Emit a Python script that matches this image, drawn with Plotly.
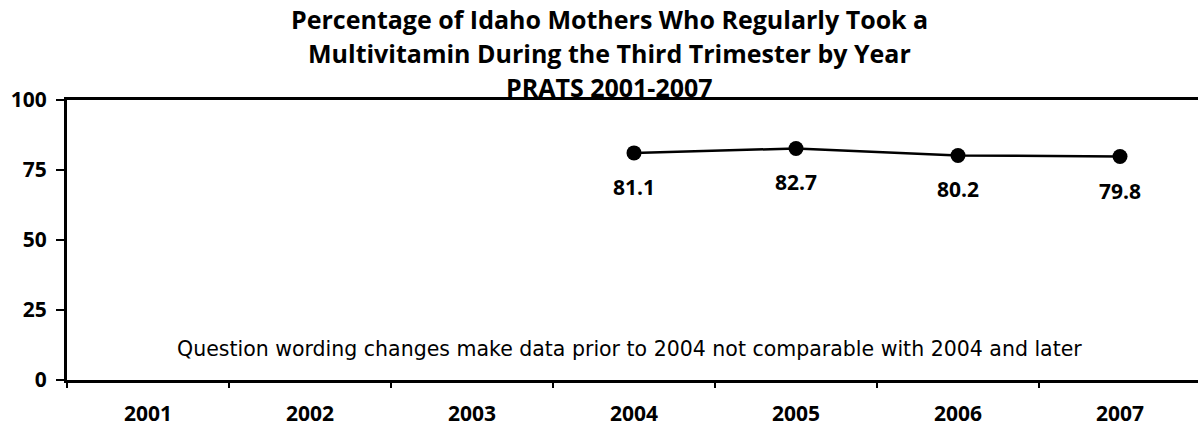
import plotly.graph_objects as go

categories = ["2001", "2002", "2003", "2004", "2005", "2006", "2007"]
years = ["2004", "2005", "2006", "2007"]
values = [81.1, 82.7, 80.2, 79.8]
y_ticks = [0, 25, 50, 75, 100]
title_lines = [
    "Percentage of Idaho Mothers Who Regularly Took a",
    "Multivitamin During the Third Trimester by Year",
    "PRATS 2001-2007",
]
note = "Question wording changes make data prior to 2004 not comparable with 2004 and later"

# body margin is removed in the page, so figure pixels == page pixels
OFF = 0
W, H = 1198, 429
ml, mr, mt, mb = 67, 0, 100, 49
pw, ph = W - ml - mr, H - mt - mb
XMAX = -0.5 + pw / 162.0


def px_to_paper(px, py):
    fx, fy = px - OFF, py - OFF
    return (fx - ml) / pw, (H - fy - mb) / ph


fig = go.Figure()
fig.add_trace(go.Scatter(
    x=[categories.index(y) for y in years], y=values, mode="lines+markers",
    line=dict(color="black", width=2.5),
    marker=dict(color="black", size=15),
    hoverinfo="y",
))

annotations = []
for yr, v in zip(years, values):
    annotations.append(dict(
        x=categories.index(yr), y=v, xref="x", yref="y", text=f"{v:.1f}", showarrow=False,
        yshift=-34, font=dict(family="Open Sans", size=21, color="black", weight="bold"),
    ))

title_y = [19.5, 53, 87]
for t, py in zip(title_lines, title_y):
    x, y = px_to_paper(609, py)
    annotations.append(dict(
        x=x, y=y, xref="paper", yref="paper", text=t, showarrow=False,
        font=dict(family="Open Sans", size=25, color="black", weight="bold"),
        xanchor="center", yanchor="middle",
    ))

nx, ny = px_to_paper(629, 349)
annotations.append(dict(
    x=nx, y=ny, xref="paper", yref="paper", text=note, showarrow=False,
    font=dict(family="DejaVu Sans", size=20.5, color="black"),
    xanchor="center", yanchor="middle",
))

fig.update_layout(
    width=W, height=H,
    margin=dict(l=ml, r=mr, t=mt, b=mb, pad=0, autoexpand=False),
    plot_bgcolor="white", paper_bgcolor="white",
    showlegend=False,
    annotations=annotations,
    xaxis=dict(
        type="linear",
        range=[-0.5, XMAX],
        tickmode="array",
        tickvals=list(range(len(categories))),
        ticktext=categories,
        ticks="",
        automargin=False,
        showline=True, linecolor="black", linewidth=3, mirror=True,
        showgrid=False, zeroline=False,
        tickfont=dict(family="Open Sans", size=21, color="black", weight="bold"),
        ticklabelstandoff=13,
    ),
    xaxis2=dict(
        overlaying="x", matches="x", range=[-0.5, XMAX],
        tickmode="array", tickvals=[i - 0.5 for i in range(len(categories) + 1)],
        showticklabels=False, ticks="outside", ticklen=7, tickwidth=2, tickcolor="black",
        automargin=False,
        showgrid=False, zeroline=False, showline=False, anchor="y", side="bottom",
    ),
    yaxis=dict(
        range=[0, 100], tickvals=y_ticks,
        automargin=False,
        showline=True, linecolor="black", linewidth=3,
        ticks="outside", ticklen=8, tickwidth=2, tickcolor="black",
        showgrid=False, zeroline=False,
        tickfont=dict(family="Open Sans", size=21, color="black", weight="bold"),
        ticklabelstandoff=5,
    ),
)
# invisible trace to show boundary ticks on xaxis2
fig.add_trace(go.Scatter(x=[], y=[], xaxis="x2", yaxis="y", showlegend=False, hoverinfo="skip"))

fig.write_html(
    "out.html",
    config={"displayModeBar": False},
    post_script="document.body.style.margin='0';document.body.style.overflow='hidden';",
)
